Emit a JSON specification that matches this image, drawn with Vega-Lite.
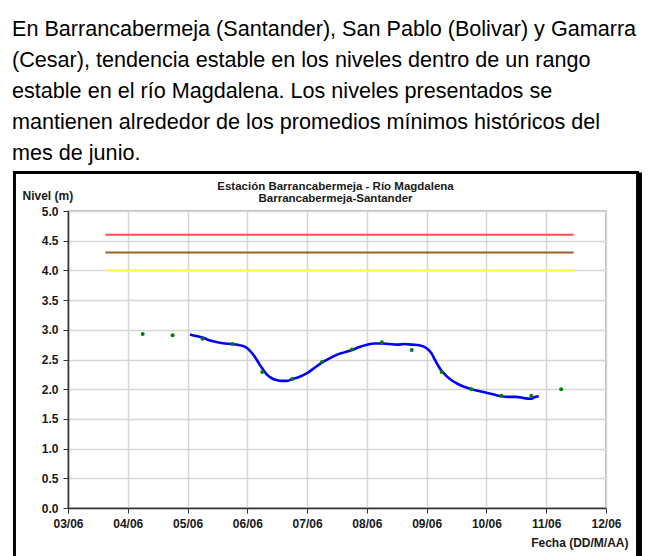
{
  "$schema": "https://vega.github.io/schema/vega-lite/v6.json",
  "width": 538,
  "height": 297,
  "autosize": {"type": "none"},
  "padding": {"left": 68, "top": 211, "right": 52, "bottom": 48},
  "background": "white",
  "title": {
    "text": [
      "En Barrancabermeja (Santander), San Pablo (Bolivar) y Gamarra",
      "(Cesar), tendencia estable en los niveles dentro de un rango",
      "estable en el río Magdalena. Los niveles presentados se",
      "mantienen alrededor de los promedios mínimos históricos del",
      "mes de junio."
    ],
    "anchor": "start",
    "frame": "group",
    "dx": -56,
    "offset": 6,
    "font": "Liberation Sans",
    "fontSize": 21.6,
    "fontWeight": "normal",
    "lineHeight": 31,
    "color": "#000000"
  },
  "datasets": {
    "umbrales": [
      {"nivel": "Rojo", "valor": 4.6, "inicio": "2010/06/03 15:00", "fin": "2010/06/11 11:00"},
      {"nivel": "Naranja", "valor": 4.3, "inicio": "2010/06/03 15:00", "fin": "2010/06/11 11:00"},
      {"nivel": "Amarillo", "valor": 4.0, "inicio": "2010/06/03 15:00", "fin": "2010/06/11 11:00"}
    ],
    "continuo": [
      {"fecha": "2010/06/05 01:00", "nivel": 2.92},
      {"fecha": "2010/06/05 03:00", "nivel": 2.90},
      {"fecha": "2010/06/05 06:00", "nivel": 2.87},
      {"fecha": "2010/06/05 09:00", "nivel": 2.82},
      {"fecha": "2010/06/05 12:00", "nivel": 2.79},
      {"fecha": "2010/06/05 15:00", "nivel": 2.77},
      {"fecha": "2010/06/05 18:00", "nivel": 2.76},
      {"fecha": "2010/06/05 21:00", "nivel": 2.74},
      {"fecha": "2010/06/06 00:00", "nivel": 2.69},
      {"fecha": "2010/06/06 02:00", "nivel": 2.60},
      {"fecha": "2010/06/06 04:00", "nivel": 2.48},
      {"fecha": "2010/06/06 05:00", "nivel": 2.41},
      {"fecha": "2010/06/06 06:00", "nivel": 2.35},
      {"fecha": "2010/06/06 08:00", "nivel": 2.24},
      {"fecha": "2010/06/06 10:00", "nivel": 2.18},
      {"fecha": "2010/06/06 12:00", "nivel": 2.15},
      {"fecha": "2010/06/06 14:00", "nivel": 2.14},
      {"fecha": "2010/06/06 16:00", "nivel": 2.14},
      {"fecha": "2010/06/06 18:00", "nivel": 2.17},
      {"fecha": "2010/06/06 21:00", "nivel": 2.21},
      {"fecha": "2010/06/07 00:00", "nivel": 2.27},
      {"fecha": "2010/06/07 03:00", "nivel": 2.36},
      {"fecha": "2010/06/07 06:00", "nivel": 2.45},
      {"fecha": "2010/06/07 09:00", "nivel": 2.52},
      {"fecha": "2010/06/07 12:00", "nivel": 2.58},
      {"fecha": "2010/06/07 15:00", "nivel": 2.62},
      {"fecha": "2010/06/07 18:00", "nivel": 2.66},
      {"fecha": "2010/06/07 21:00", "nivel": 2.71},
      {"fecha": "2010/06/08 00:00", "nivel": 2.75},
      {"fecha": "2010/06/08 03:00", "nivel": 2.77},
      {"fecha": "2010/06/08 06:00", "nivel": 2.77},
      {"fecha": "2010/06/08 09:00", "nivel": 2.76},
      {"fecha": "2010/06/08 12:00", "nivel": 2.75},
      {"fecha": "2010/06/08 15:00", "nivel": 2.76},
      {"fecha": "2010/06/08 18:00", "nivel": 2.75},
      {"fecha": "2010/06/08 21:00", "nivel": 2.74},
      {"fecha": "2010/06/09 00:00", "nivel": 2.69},
      {"fecha": "2010/06/09 02:00", "nivel": 2.60},
      {"fecha": "2010/06/09 03:00", "nivel": 2.52},
      {"fecha": "2010/06/09 05:00", "nivel": 2.37},
      {"fecha": "2010/06/09 06:00", "nivel": 2.31},
      {"fecha": "2010/06/09 08:00", "nivel": 2.22},
      {"fecha": "2010/06/09 10:00", "nivel": 2.15},
      {"fecha": "2010/06/09 12:00", "nivel": 2.10},
      {"fecha": "2010/06/09 15:00", "nivel": 2.04},
      {"fecha": "2010/06/09 18:00", "nivel": 2.00},
      {"fecha": "2010/06/09 21:00", "nivel": 1.97},
      {"fecha": "2010/06/10 00:00", "nivel": 1.94},
      {"fecha": "2010/06/10 03:00", "nivel": 1.91},
      {"fecha": "2010/06/10 06:00", "nivel": 1.88},
      {"fecha": "2010/06/10 09:00", "nivel": 1.87},
      {"fecha": "2010/06/10 12:00", "nivel": 1.87},
      {"fecha": "2010/06/10 15:00", "nivel": 1.85},
      {"fecha": "2010/06/10 18:00", "nivel": 1.84},
      {"fecha": "2010/06/10 19:00", "nivel": 1.86},
      {"fecha": "2010/06/10 21:00", "nivel": 1.88}
    ],
    "lecturas": [
      {"fecha": "2010/06/04 06:00", "nivel": 2.93},
      {"fecha": "2010/06/04 18:00", "nivel": 2.91},
      {"fecha": "2010/06/05 06:00", "nivel": 2.85},
      {"fecha": "2010/06/05 18:00", "nivel": 2.76},
      {"fecha": "2010/06/06 06:00", "nivel": 2.29},
      {"fecha": "2010/06/06 18:00", "nivel": 2.17},
      {"fecha": "2010/06/07 06:00", "nivel": 2.46},
      {"fecha": "2010/06/07 18:00", "nivel": 2.67},
      {"fecha": "2010/06/08 06:00", "nivel": 2.79},
      {"fecha": "2010/06/08 18:00", "nivel": 2.66},
      {"fecha": "2010/06/09 06:00", "nivel": 2.29},
      {"fecha": "2010/06/09 18:00", "nivel": 2.00},
      {"fecha": "2010/06/10 06:00", "nivel": 1.89},
      {"fecha": "2010/06/10 18:00", "nivel": 1.89},
      {"fecha": "2010/06/11 06:00", "nivel": 2.00}
    ]
  },
  "config": {
    "view": {"stroke": "#a6a6a6", "strokeWidth": 1.5},
    "axis": {
      "labelFont": "Liberation Sans",
      "labelFontWeight": "bold",
      "labelFontSize": 12,
      "labelColor": "#1a1a1a",
      "titleFont": "Liberation Sans",
      "titleFontWeight": "bold",
      "titleFontSize": 12,
      "titleColor": "#1a1a1a",
      "gridColor": "#d6d6d6",
      "gridWidth": 1.5,
      "domainColor": "#333333",
      "domainWidth": 1.5,
      "tickColor": "#333333",
      "tickWidth": 1,
      "tickSize": 5,
      "labelFlush": false,
      "labelOverlap": false
    }
  },
  "resolve": {"axis": {"x": "independent"}},
  "layer": [
    {
      "data": {"values": [{}]},
      "layer": [
        {
          "mark": {"type": "rect", "fill": "white", "fillOpacity": 0, "stroke": "#000000", "strokeWidth": 3, "clip": false},
          "encoding": {
            "x": {
              "datum": {"year": 2010, "month": 6, "date": 2, "hours": 2, "minutes": 30},
              "type": "temporal",
              "scale": {"domain": [{"year": 2010, "month": 6, "date": 3}, {"year": 2010, "month": 6, "date": 12}]},
              "axis": {
                "orient": "top",
                "labels": false,
                "ticks": false,
                "domain": false,
                "grid": false,
                "title": ["Estación Barrancabermeja - Río Magdalena", "Barrancabermeja-Santander"],
                "titleFontSize": 11.5,
                "titleLineHeight": 12,
                "titleX": 267,
                "titleY": -25,
                "titleAlign": "center",
                "titleBaseline": "middle"
              }
            },
            "x2": {"datum": {"year": 2010, "month": 6, "date": 12, "hours": 12, "minutes": 40}},
            "y": {
              "datum": 5.648,
              "type": "quantitative",
              "scale": {"domain": [0, 5], "nice": false},
              "axis": {
                "grid": true,
                "tickCount": 10,
                "format": ".1f",
                "labelPadding": 5,
                "title": "Nivel (m)",
                "titleAngle": 0,
                "titleAlign": "left",
                "titleBaseline": "middle",
                "titleX": -46,
                "titleY": -16
              }
            },
            "y2": {"datum": -1.3}
          }
        },
        {
          "mark": {"type": "rule", "color": "#000000", "strokeWidth": 3, "clip": false},
          "encoding": {
            "x": {"datum": {"year": 2010, "month": 6, "date": 12, "hours": 13, "minutes": 50}, "type": "temporal"},
            "y": {"datum": 5.648, "type": "quantitative"},
            "y2": {"datum": -1.3}
          }
        }
      ]
    },
    {
      "layer": [
        {
          "data": {"name": "umbrales"},
          "mark": {"type": "rule", "strokeWidth": 2},
          "encoding": {
            "x": {
              "field": "inicio",
              "type": "temporal",
              "scale": {"domain": [{"year": 2010, "month": 6, "date": 3}, {"year": 2010, "month": 6, "date": 12}]},
              "axis": {
                "orient": "bottom",
                "grid": true,
                "format": "%d/%m",
                "tickCount": {"interval": "day", "step": 1},
                "labelPadding": 5,
                "title": "Fecha (DD/M/AA)",
                "titleX": 560,
                "titleY": 34,
                "titleAlign": "right",
                "titleBaseline": "middle"
              }
            },
            "x2": {"field": "fin"},
            "y": {
              "field": "valor",
              "type": "quantitative",
              "scale": {"domain": [0, 5], "nice": false},
              "axis": {
                "grid": true,
                "tickCount": 10,
                "format": ".1f",
                "labelPadding": 5,
                "title": "Nivel (m)",
                "titleAngle": 0,
                "titleAlign": "left",
                "titleBaseline": "middle",
                "titleX": -46,
                "titleY": -16
              }
            },
            "color": {
              "field": "nivel",
              "type": "nominal",
              "scale": {"domain": ["Rojo", "Naranja", "Amarillo"], "range": ["#ff5050", "#a0622d", "#ffff33"]},
              "legend": null
            }
          }
        },
        {
          "data": {"name": "continuo"},
          "mark": {"type": "line", "color": "#0000ff", "strokeWidth": 2.6, "interpolate": "monotone"},
          "encoding": {
            "x": {"field": "fecha", "type": "temporal"},
            "y": {"field": "nivel", "type": "quantitative"}
          }
        },
        {
          "data": {"name": "lecturas"},
          "mark": {"type": "circle", "color": "#008000", "size": 16, "opacity": 1},
          "encoding": {
            "x": {"field": "fecha", "type": "temporal"},
            "y": {"field": "nivel", "type": "quantitative"}
          }
        }
      ]
    }
  ]
}
